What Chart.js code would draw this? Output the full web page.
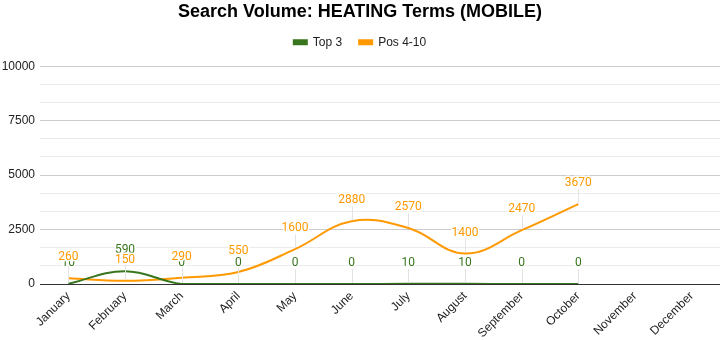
<!DOCTYPE html>
<html>
<head>
<meta charset="utf-8">
<script src="https://cdn.jsdelivr.net/npm/chart.js@4.4.0/dist/chart.umd.min.js"></script>
<style>
  html, body { margin: 0; padding: 0; background: #fff; }
  #wrap { width: 727px; height: 340px; position: relative; }
</style>
</head>
<body>
<div id="wrap"><canvas id="c" width="727" height="340"></canvas></div>
<script>
const months = ["January","February","March","April","May","June","July","August","September","October","November","December"];
const top3 = [10, 590, 0, 0, 0, 0, 10, 10, 0, 0, null, null];
const pos4to10 = [260, 150, 290, 550, 1600, 2880, 2570, 1400, 2470, 3670, null, null];
const yMajorTicks = [0, 2500, 5000, 7500, 10000];
const minorPerMajor = 3;

const GREEN = '#38761d';
const ORANGE = '#ff9900';
const BASE = "Arial, 'Liberation Sans', sans-serif";

const legendGapPlugin = {
  id: 'legendGap',
  beforeLayout(chart) {
    const lg = chart.legend;
    if (lg && !lg._gapPatched) {
      const orig = lg.fit.bind(lg);
      lg.fit = function () { orig(); this.height += 8; };
      lg._gapPatched = true;
    }
  }
};

const annotPlugin = {
  id: 'annot',
  afterDatasetsDraw(chart) {
    const ctx = chart.ctx;
    ctx.save();
    chart.data.datasets.forEach((ds, di) => {
      const meta = chart.getDatasetMeta(di);
      meta.data.forEach((el, i) => {
        if (ds.data[i] === null || ds.data[i] === undefined) return;
        ctx.strokeStyle = '#e3e3e3';
        ctx.lineWidth = 1;
        ctx.beginPath();
        ctx.moveTo(Math.round(el.x) + 0.5, el.y - 1);
        ctx.lineTo(Math.round(el.x) + 0.5, el.y - 15);
        ctx.stroke();
      });
    });
    chart.data.datasets.forEach((ds, di) => {
      const meta = chart.getDatasetMeta(di);
      meta.data.forEach((el, i) => {
        const v = ds.data[i];
        if (v === null || v === undefined) return;
        ctx.font = "12px Roboto, Arial, sans-serif";
        ctx.textAlign = 'center';
        ctx.textBaseline = 'middle';
        ctx.lineWidth = 3;
        ctx.strokeStyle = '#fff';
        ctx.lineJoin = 'round';
        ctx.strokeText(String(v), el.x, el.y - 21);
        ctx.fillStyle = ds.borderColor;
        ctx.fillText(String(v), el.x, el.y - 21);
      });
    });
    ctx.restore();
  }
};

const majorStep = yMajorTicks[1] - yMajorTicks[0];
new Chart(document.getElementById('c'), {
  type: 'line',
  data: {
    labels: months,
    datasets: [
      { label: 'Top 3', data: top3, borderColor: GREEN, backgroundColor: GREEN, borderWidth: 2, pointRadius: 0, pointHoverRadius: 0, tension: 0.4, fill: false },
      { label: 'Pos 4-10', data: pos4to10, borderColor: ORANGE, backgroundColor: ORANGE, borderWidth: 2, pointRadius: 0, pointHoverRadius: 0, tension: 0.4, fill: false }
    ]
  },
  options: {
    responsive: false,
    animation: false,
    events: [],
    layout: { padding: { left: 0, right: 7, top: 0, bottom: 0 } },
    plugins: {
      title: {
        display: true,
        text: 'Search Volume: HEATING Terms (MOBILE)',
        color: '#000',
        font: { family: BASE, size: 18, weight: 'bold', lineHeight: 0.9 },
        padding: { top: 4, bottom: -1 }
      },
      legend: {
        display: true,
        labels: {
          color: '#222',
          font: { family: BASE, size: 12 },
          boxWidth: 13,
          boxHeight: 4,
          padding: 17
        }
      },
      tooltip: { enabled: false }
    },
    scales: {
      x: {
        offset: true,
        grid: { display: false },
        border: { display: false },
        afterFit(scale) { scale.height = 56; },
        ticks: {
          color: '#222',
          font: { family: BASE, size: 12 },
          maxRotation: 45,
          minRotation: 45,
          autoSkip: false,
          padding: -3
        }
      },
      y: {
        min: yMajorTicks[0],
        max: yMajorTicks[yMajorTicks.length - 1],
        afterFit(scale) { scale.width = 40; },
        afterBuildTicks(scale) {
          const t = [];
          const n = (yMajorTicks.length - 1) * minorPerMajor;
          for (let i = 0; i <= n; i++) t.push({ value: yMajorTicks[0] + i * majorStep / minorPerMajor });
          scale.ticks = t;
        },
        border: { display: false },
        grid: {
          drawTicks: false,
          color(c) {
            const v = c.tick.value;
            if (Math.abs(v) < 1e-6) return '#333';
            const r = v / majorStep;
            if (Math.abs(r - Math.round(r)) < 1e-6) return '#cccccc';
            return '#ebebeb';
          }
        },
        ticks: {
          color: '#222',
          font: { family: BASE, size: 12 },
          padding: 5,
          autoSkip: false,
          callback(v) {
            const r = v / majorStep;
            return Math.abs(r - Math.round(r)) < 1e-6 ? String(Math.round(v)) : '';
          }
        }
      }
    }
  },
  plugins: [legendGapPlugin, annotPlugin]
});
</script>
</body>
</html>
